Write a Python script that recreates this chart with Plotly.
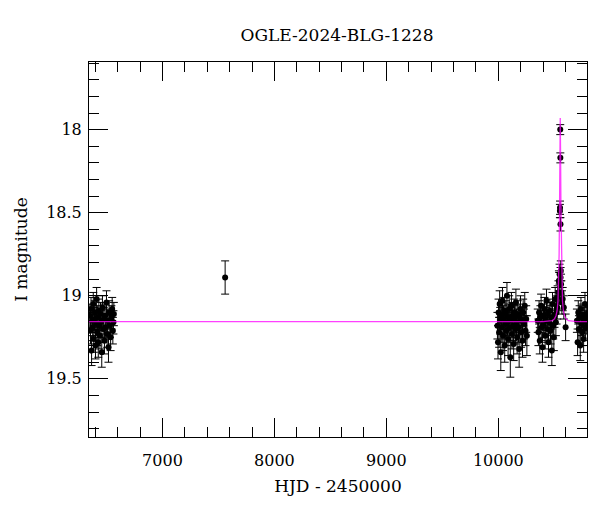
import plotly.graph_objects as go

# ---- data: HJD-2450000, I magnitude, error ----
tA = [6352, 6357, 6362, 6367, 6372, 6377, 6382, 6387, 6392, 6397,
      6402, 6407, 6412, 6417, 6422, 6427, 6432, 6437, 6442, 6447,
      6452, 6458, 6464, 6470, 6476, 6482, 6488, 6494, 6500, 6506,
      6512, 6518, 6524, 6530, 6537, 6544, 6551, 6557, 6562, 6566]
mA = [19.12, 19.21, 19.08, 19.33, 19.15, 19.19, 19.05, 19.26, 19.14, 19.10,
      19.30, 19.17, 19.02, 19.22, 19.13, 19.28, 19.09, 19.18, 19.24, 19.11,
      19.16, 19.34, 19.07, 19.20, 19.14, 19.27, 19.12, 19.19, 19.04, 19.23,
      19.15, 19.31, 19.10, 19.18, 19.25, 19.13, 19.08, 19.21, 19.16, 19.11]
eA = [0.07, 0.08, 0.07, 0.09, 0.07, 0.08, 0.07, 0.08, 0.07, 0.07,
      0.08, 0.07, 0.07, 0.08, 0.07, 0.09, 0.07, 0.07, 0.08, 0.07,
      0.07, 0.09, 0.07, 0.08, 0.07, 0.08, 0.07, 0.07, 0.07, 0.08,
      0.07, 0.09, 0.07, 0.07, 0.08, 0.07, 0.07, 0.08, 0.07, 0.07]

tS = [7560]
mS = [18.89]
eS = [0.10]

tB = [9992, 9997, 10002, 10007, 10012, 10017, 10022, 10027, 10032, 10037,
      10042, 10047, 10052, 10057, 10062, 10067, 10072, 10077, 10082, 10087,
      10092, 10097, 10102, 10107, 10112, 10117, 10122, 10127, 10132, 10137,
      10142, 10147, 10152, 10157, 10162, 10168, 10174, 10180, 10186, 10192,
      10198, 10204, 10210, 10216, 10222, 10229, 10236, 10243, 10249, 10255]
mB = [19.18, 19.28, 19.10, 19.22, 19.05, 19.15, 19.34, 19.12, 19.19, 19.03,
      19.24, 19.14, 19.09, 19.30, 19.17, 19.11, 19.21, 19.00, 19.16, 19.26,
      19.13, 19.08, 19.19, 19.37, 19.15, 19.06, 19.23, 19.12, 19.18, 19.29,
      19.10, 19.14, 19.20, 19.04, 19.16, 19.25, 19.11, 19.19, 19.32, 19.13,
      19.08, 19.22, 19.15, 19.27, 19.10, 19.17, 19.06, 19.21, 19.14, 19.24]
eB = [0.08, 0.10, 0.08, 0.09, 0.08, 0.08, 0.11, 0.08, 0.09, 0.08,
      0.09, 0.08, 0.08, 0.10, 0.09, 0.08, 0.09, 0.08, 0.08, 0.10,
      0.08, 0.08, 0.09, 0.12, 0.08, 0.08, 0.09, 0.08, 0.09, 0.10,
      0.08, 0.08, 0.09, 0.08, 0.08, 0.10, 0.08, 0.09, 0.11, 0.08,
      0.08, 0.09, 0.08, 0.10, 0.08, 0.09, 0.08, 0.09, 0.08, 0.12]

tC = [10352, 10358, 10364, 10370, 10376, 10382, 10388, 10394, 10400, 10406,
      10412, 10418, 10424, 10430, 10436, 10442, 10448, 10454, 10460, 10466,
      10472, 10478, 10484, 10490, 10496, 10502, 10508, 10514, 10520, 10526]
mC = [19.15, 19.22, 19.10, 19.27, 19.13, 19.06, 19.19, 19.31, 19.12, 19.17,
      19.08, 19.24, 19.14, 19.03, 19.20, 19.11, 19.28, 19.16, 19.09, 19.21,
      19.13, 19.33, 19.05, 19.18, 19.25, 19.12, 19.02, 19.16, 19.10, 19.07]
eC = [0.07, 0.08, 0.07, 0.08, 0.07, 0.07, 0.08, 0.09, 0.07, 0.08,
      0.07, 0.08, 0.07, 0.07, 0.08, 0.07, 0.09, 0.07, 0.07, 0.08,
      0.07, 0.09, 0.07, 0.08, 0.08, 0.07, 0.07, 0.08, 0.07, 0.07]

tE = [10530, 10537, 10541, 10544, 10547, 10550, 10551, 10553, 10554, 10555,
      10556, 10558, 10560, 10563, 10568, 10575, 10585, 10601]
mE = [19.01, 18.98, 18.91, 18.92, 18.87, 18.49, 18.47, 18.00, 18.17, 18.57,
      18.89, 18.85, 18.93, 18.98, 19.04, 19.02, 19.07, 19.19]
eE = [0.07, 0.07, 0.06, 0.06, 0.06, 0.04, 0.04, 0.03, 0.03, 0.04,
      0.06, 0.06, 0.06, 0.07, 0.07, 0.07, 0.07, 0.08]

tD = [10702, 10708, 10714, 10720, 10726, 10732, 10738, 10744, 10750, 10756,
      10762, 10768, 10774, 10780, 10786, 10790]
mD = [19.15, 19.28, 19.10, 19.20, 19.13, 19.30, 19.08, 19.17, 19.22, 19.12,
      19.26, 19.14, 19.05, 19.19, 19.11, 19.16]
eD = [0.07, 0.08, 0.07, 0.08, 0.07, 0.09, 0.07, 0.07, 0.08, 0.07,
      0.08, 0.07, 0.07, 0.08, 0.07, 0.07]

# model curve
model_t = [6344, 10400, 10480, 10500, 10515, 10525, 10533, 10539, 10543, 10547,
           10550, 10553, 10556, 10559, 10563, 10567, 10573, 10581, 10591, 10606,
           10626, 10700, 10792]
model_m = [19.155, 19.155, 19.150, 19.14, 19.12, 19.09, 19.03, 18.92, 18.75, 18.45,
           18.15, 17.93, 18.15, 18.45, 18.75, 18.92, 19.03, 19.09, 19.12, 19.14,
           19.15, 19.155, 19.155]

title_text = "OGLE-2024-BLG-1228"
x_title = "HJD - 2450000"
y_title = "I magnitude"
x_ticks = [7000, 8000, 9000, 10000]
x_ticktext = ["7000", "8000", "9000", "10000"]
y_ticks = [18, 18.5, 19, 19.5]
y_ticktext = ["18", "18.5", "19", "19.5"]

t_all = tA + tS + tB + tC + tE + tD
m_all = mA + mS + mB + mC + mE + mD
e_all = eA + eS + eB + eC + eE + eD

FONT = "DejaVu Serif"

fig = go.Figure()
fig.add_trace(go.Scatter(
    x=t_all, y=m_all, mode="markers",
    marker=dict(color="black", size=6),
    error_y=dict(type="data", array=e_all, color="black", thickness=1, width=4),
    showlegend=False,
))
fig.add_trace(go.Scatter(
    x=model_t, y=model_m, mode="lines",
    line=dict(color="rgba(255,0,255,0.75)", width=1.3),
    showlegend=False,
))

axis_common = dict(
    showgrid=False, zeroline=False, showline=True, linecolor="black", linewidth=1,
    mirror="ticks", ticks="inside", ticklen=19, tickwidth=1, tickcolor="black",
    tickfont=dict(family=FONT, size=16, color="black"),
)
fig.update_xaxes(
    range=[6344, 10792], tickmode="array", tickvals=x_ticks, ticktext=x_ticktext,
    ticklabelstandoff=9,
    minor=dict(ticks="inside", ticklen=10, dtick=200, tick0=0, tickcolor="black", showgrid=False),
    title=dict(text=x_title, font=dict(family=FONT, size=17, color="black"), standoff=10),
    **axis_common,
)
fig.update_yaxes(
    range=[19.85, 17.593], tickmode="array", tickvals=y_ticks, ticktext=y_ticktext,
    ticklabelstandoff=3,
    minor=dict(ticks="inside", ticklen=10, dtick=0.1, tick0=0, tickcolor="black", showgrid=False),
    title=dict(text=y_title, font=dict(family=FONT, size=17, color="black"), standoff=14),
    **axis_common,
)
fig.update_layout(
    width=592, height=504,
    margin=dict(l=79, r=13, t=54, b=75),
    plot_bgcolor="white", paper_bgcolor="white",
    title=dict(text=title_text, x=329 / 592, xanchor="center", y=1 - 27 / 504, yanchor="middle",
               font=dict(family=FONT, size=17, color="black")),
)
fig.write_html("out.html")
